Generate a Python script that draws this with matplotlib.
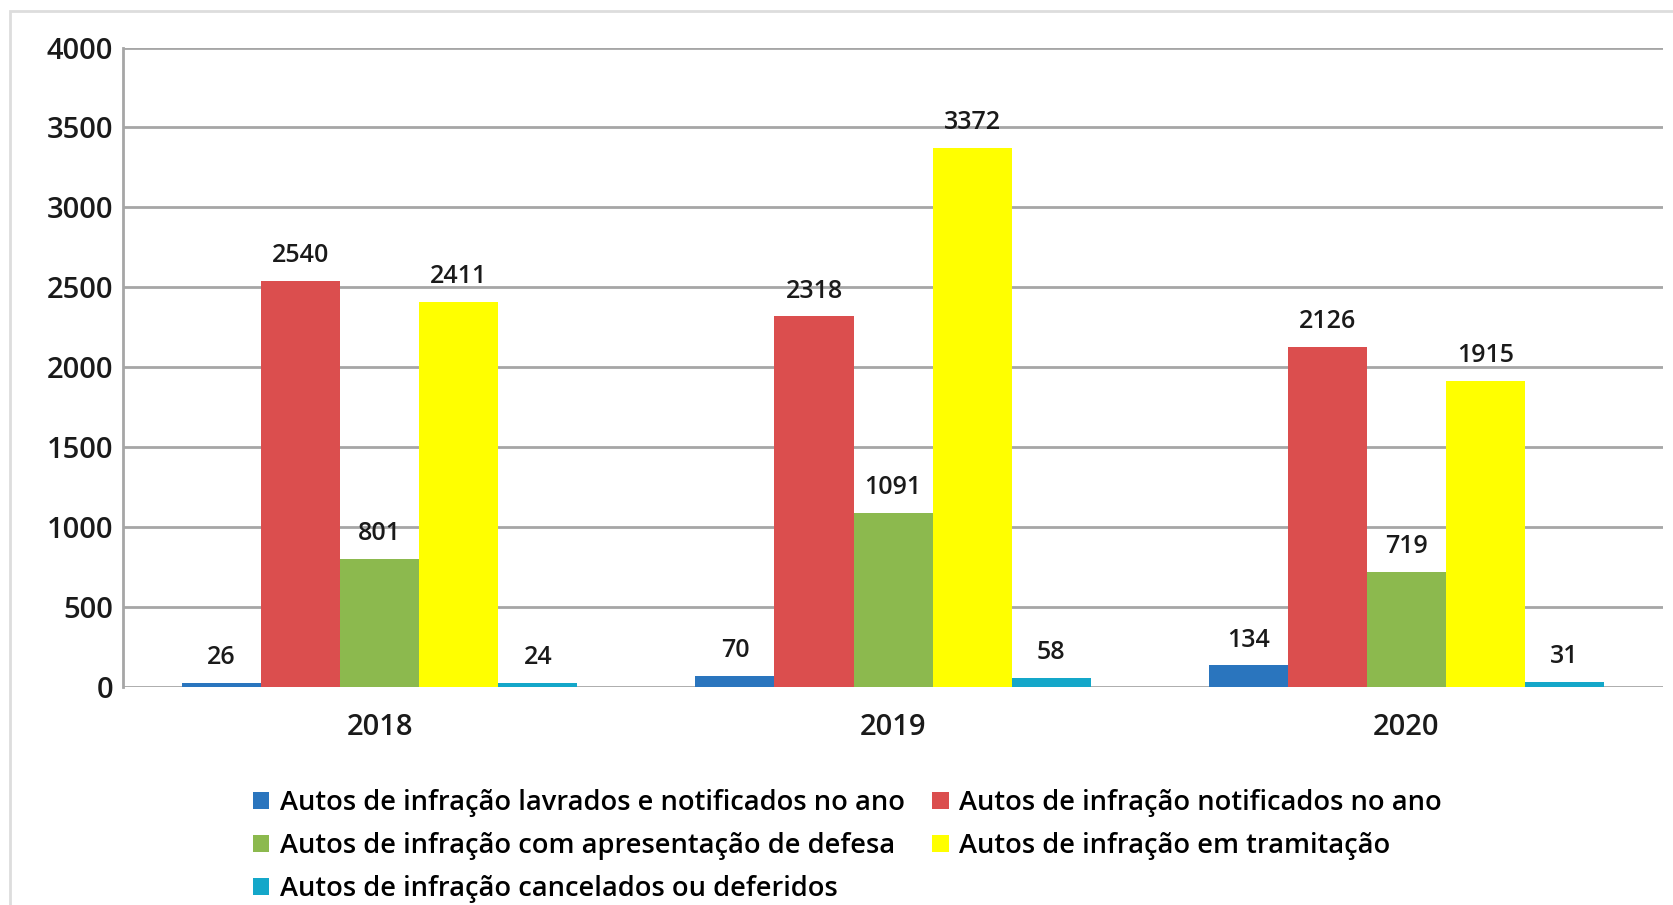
import numpy as np
import matplotlib.pyplot as plt
from matplotlib.patches import Rectangle

plt.rcParams['font.family'] = ['Open Sans', 'DejaVu Sans']
plt.rcParams['font.weight'] = 'semibold'

years = ['2018', '2019', '2020']
series = ['Autos de infração lavrados e notificados no ano',
          'Autos de infração notificados no ano',
          'Autos de infração com apresentação de defesa',
          'Autos de infração em tramitação',
          'Autos de infração cancelados ou deferidos']
lavrados = [26, 70, 134]
notificados = [2540, 2318, 2126]
defesa = [801, 1091, 719]
tramitacao = [2411, 3372, 1915]
cancelados = [24, 58, 31]
colors = ['#2A75BE', '#DB4E4E', '#8CB94E', '#FFFF00', '#14A7C9']

values = [lavrados, notificados, defesa, tramitacao, cancelados]

fig = plt.figure(figsize=(16.74, 9.05), dpi=100)
ax = fig.add_axes([0.0735, 0.241, 0.92, 0.7065])

# light frame around the chart
fig.patches.append(Rectangle((10/1674, -0.1), 1.2, 1 - 11/905 + 0.1,
                             transform=fig.transFigure, fill=False,
                             edgecolor='#DDDDDD', linewidth=2))

x = np.arange(len(years))
w = 0.154
for i, (vals, c) in enumerate(zip(values, colors)):
    pos = x + (i - 2) * w
    ax.bar(pos, vals, w, color=c, label=series[i], zorder=3)
    for p, v in zip(pos, vals):
        ax.text(p, v + 80, str(v), ha='center', va='bottom', fontsize=18,
                color='#1a1a1a', zorder=4)

ax.set_xlim(-0.5, 2.5)
ax.set_ylim(0, 4000)
ax.set_yticks(np.arange(0, 4001, 500))
ax.set_xticks(x)
ax.set_xticklabels(years)
ax.tick_params(length=0, labelsize=21, colors='#1a1a1a')
ax.tick_params(axis='x', pad=19)
ax.tick_params(axis='y', pad=7)
ax.yaxis.grid(True, color='#A6A6A6', linewidth=2)
ax.set_axisbelow(True)
for s in ['top', 'right']:
    ax.spines[s].set_visible(False)
ax.spines['bottom'].set_visible(False)
ax.spines['left'].set_color('#A6A6A6')
ax.spines['left'].set_linewidth(2)

h, l = ax.get_legend_handles_labels()
order = [0, 2, 4, 1, 3]
fig.legend([h[k] for k in order], [l[k] for k in order], ncol=2,
           loc='upper left', bbox_to_anchor=(0.151, 0.128), frameon=False,
           fontsize=19.6, handlelength=0.6, handleheight=0.6,
           handletextpad=0.4, columnspacing=1.0, labelspacing=0.55,
           borderaxespad=0, borderpad=0)

fig.savefig('out.png', dpi=100)
